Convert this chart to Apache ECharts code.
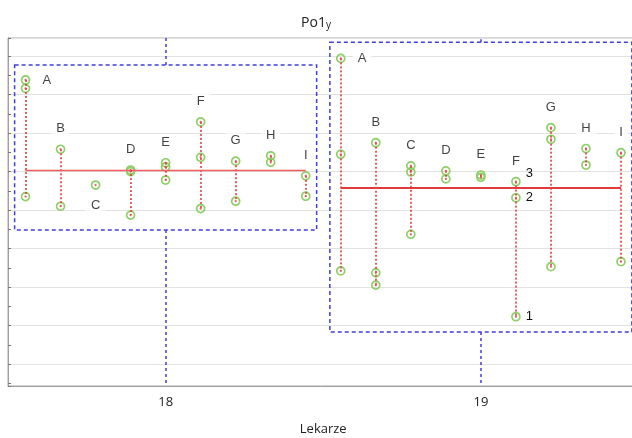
<!DOCTYPE html>
<html><head><meta charset="utf-8">
<script src="https://cdn.jsdelivr.net/npm/echarts@6/dist/echarts.min.js"></script>
<style>html,body{margin:0;padding:0;background:#fff}#c{width:632px;height:438px}</style>
</head><body><div id="c"></div>
<script>
// ---- data ----
const doctors = [18, 19];
const subjects = ['A','B','C','D','E','F','G','H','I'];
const values18 = [
  [73.8, 71.6, 43.5],
  [55.8, 41.0],
  [46.5],
  [50.4, 50.0, 38.7],
  [52.3, 51.2, 47.8],
  [62.9, 53.7, 40.4],
  [52.7, 42.3],
  [54.1, 52.4],
  [48.9, 43.6]
];
const values19 = [
  [79.4, 54.5, 24.2],
  [57.5, 23.7, 20.5],
  [51.5, 49.9, 33.7],
  [50.2, 48.1],
  [49.1, 48.5],
  [47.4, 43.2, 12.3],
  [61.4, 58.4, 25.3],
  [56.0, 51.7],
  [54.9, 26.6]
];
const means = [50.4, 45.8];
const boxTops = [77.7, 83.6];
const boxBottoms = [34.8, 8.3];
const pointTags19F = ['3', '2', '1'];
const titleMain = 'Po1';
const titleSub = 'y';
const xName = 'Lekarze';
const yMin = -5.7, yMax = 84.7;

// ---- build ----
const groupValues = [values18, values19];
const step = 1 / 9;
const boxHalf = 0.479;
const RED = '#e33b3b', GREEN = '#8fcf67', BLUE = '#3f3fd9';

const pointData = [], dotData = [], letterData = [], rangeLines = [];
groupValues.forEach((gv, gi) => {
  const g = doctors[gi];
  gv.forEach((vals, si) => {
    const x = g + (si - 4) * step;
    vals.forEach((v, pi) => {
      const item = { value: [x, v] };
      if (gi === 1 && subjects[si] === 'F') {
        item.label = { show: true, formatter: pointTags19F[pi], position: 'right', distance: 5,
                       offset: pi === 0 ? [0, -8] : [0, 0] };
      }
      pointData.push(item);
      dotData.push([x, v]);
    });
    const top = Math.max(...vals), bot = Math.min(...vals);
    if (vals.length > 1) rangeLines.push([{ coord: [x, top] }, { coord: [x, bot] }]);
    const key = g + subjects[si];
    let pos = 'top', dist = 13;
    if (key === '18A' || key === '19A') { pos = 'right'; dist = 12; }
    if (key === '18C') { pos = 'bottom'; dist = 13; }
    letterData.push({
      value: [x, key === '18C' ? bot : top],
      label: { position: pos, distance: dist }
    });
  });
});

const boxAreas = doctors.map((g, i) => [
  { coord: [g - boxHalf, boxTops[i]] },
  { coord: [g + boxHalf, boxBottoms[i]] }
]);
const whiskers = [];
doctors.forEach((g, i) => {
  whiskers.push([{ coord: [g, boxTops[i]] }, { coord: [g, yMax] }]);
  whiskers.push([{ coord: [g, boxBottoms[i]] }, { coord: [g, yMin] }]);
});
const meanLines = doctors.map((g, i) => [
  { coord: [g - 4 * step, means[i]], lineStyle: i === 0 ? { color: '#f25c5c', width: 1.3, type: 'solid' } : { color: RED, width: 2, type: 'solid' } },
  { coord: [g + 4 * step, means[i]] }
]);

const chart = echarts.init(document.getElementById('c'), null, { renderer: 'canvas' });
chart.setOption({
  animation: false,
  backgroundColor: '#fff',
  title: {
    text: '{a|' + titleMain + '}{b|' + titleSub + '}',
    left: 'center', top: 11,
    textStyle: {
      fontWeight: 'normal',
      rich: {
        a: { fontFamily: 'Open Sans', fontSize: 14, fontWeight: 'normal', color: '#222', padding: [0, 0, 5, 0] },
        b: { fontFamily: 'Open Sans', fontSize: 10, fontWeight: 'normal', color: '#222' }
      }
    }
  },
  grid: { left: 8, width: 630.5, top: 38, height: 348, show: true, borderColor: '#a9a9a9', borderWidth: 1, outerBoundsMode: 'none', containLabel: false },
  xAxis: {
    type: 'value', min: 17.5, max: 19.5, splitNumber: 2,
    name: xName, nameLocation: 'middle', nameGap: 37,
    nameTextStyle: { fontFamily: 'Open Sans', fontSize: 13, color: '#222' },
    axisLine: { onZero: false, lineStyle: { color: '#a0a0a0' } },
    axisTick: { show: false },
    splitLine: { show: false },
    axisLabel: {
      fontFamily: 'Open Sans', fontSize: 13, color: '#222', margin: 10,
      showMinLabel: false, showMaxLabel: false,
      formatter: v => (Math.abs(v - Math.round(v)) < 1e-6 ? String(Math.round(v)) : '')
    }
  },
  yAxis: {
    type: 'value', min: yMin, max: yMax, splitNumber: 9,
    axisLine: { show: true, onZero: false, lineStyle: { color: '#a0a0a0' } },
    axisTick: { show: true, inside: true, length: 3, lineStyle: { color: '#777' } },
    minorTick: { show: true, splitNumber: 2, length: 3, lineStyle: { color: '#777' } },
    axisLabel: { show: false },
    splitLine: { show: true, lineStyle: { color: '#e2e2e2', width: 1 } }
  },
  series: [
    {
      type: 'scatter', data: [], silent: true,
      markArea: {
        silent: true,
        itemStyle: { color: 'rgba(0,0,0,0)', borderColor: BLUE, borderWidth: 1.5, borderType: [4, 3] },
        data: boxAreas
      },
      markLine: {
        silent: true, symbol: 'none', label: { show: false },
        lineStyle: { color: BLUE, width: 1.5, type: [3, 3] },
        data: whiskers
      }
    },
    {
      type: 'scatter', data: [], silent: true,
      markLine: {
        silent: true, symbol: 'none', label: { show: false },
        lineStyle: { color: RED, width: 1.6, type: [2, 2] },
        data: rangeLines
      }
    },
    {
      type: 'scatter', data: [], silent: true, z: 3,
      markLine: {
        silent: true, symbol: 'none', label: { show: false },
        lineStyle: { type: 'solid', color: RED },
        data: meanLines
      }
    },
    {
      type: 'scatter', symbol: 'circle', symbolSize: 8, z: 4,
      itemStyle: { color: 'rgba(255,255,255,0)', borderColor: GREEN, borderWidth: 1.7, opacity: 1 },
      label: { show: false, fontFamily: 'Liberation Sans', fontSize: 13, color: '#111' },
      data: pointData
    },
    {
      type: 'scatter', symbol: 'circle', symbolSize: 2.2, z: 5,
      itemStyle: { color: RED },
      data: dotData
    },
    {
      type: 'scatter', symbolSize: 0, z: 6,
      label: {
        show: true, formatter: p => subjects[p.dataIndex % 9],
        fontFamily: 'Liberation Sans', fontSize: 13, color: '#111',
        backgroundColor: '#fff', padding: [1, 5]
      },
      data: letterData
    }
  ]
});
</script></body></html>
